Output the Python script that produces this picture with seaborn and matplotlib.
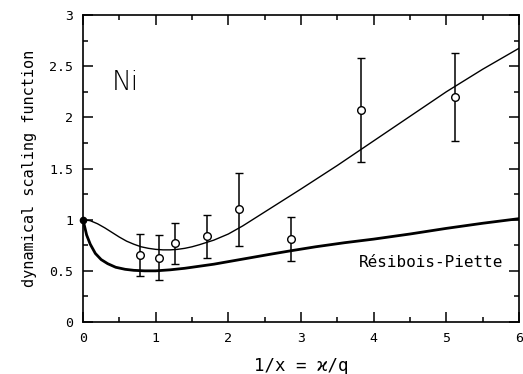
import numpy as np
import pandas as pd
import matplotlib
matplotlib.use("Agg")
import matplotlib.pyplot as plt
from matplotlib.ticker import MultipleLocator
import seaborn as sns

sns.set_style("ticks")
plt.rcParams['font.family'] = ['DejaVu Sans Mono', 'DejaVu Sans']
plt.rcParams['text.color'] = 'black'
plt.rcParams['axes.labelcolor'] = 'black'
plt.rcParams['xtick.color'] = 'black'
plt.rcParams['ytick.color'] = 'black'

# measured points (Ni)
x_pts = [0.78, 1.04, 1.27, 1.71, 2.14, 2.86, 3.82, 5.12]
y_pts = [0.655, 0.63, 0.77, 0.84, 1.10, 0.81, 2.07, 2.20]
y_err = [0.205, 0.22, 0.20, 0.21, 0.36, 0.215, 0.505, 0.43]

# theory curve through the data
x_fit = [0, 0.1, 0.2, 0.3, 0.4, 0.5, 0.6, 0.7, 0.8, 0.9, 1.0, 1.1, 1.2,
         1.3, 1.4, 1.5, 1.6, 1.8, 2.0, 2.2, 2.4, 2.6, 2.8, 3.0, 3.5, 4.0,
         4.5, 5.0, 5.5, 6.0]
y_fit = [1.0, 0.99, 0.96, 0.92, 0.875, 0.83, 0.79, 0.76, 0.735, 0.72, 0.71,
         0.705, 0.705, 0.71, 0.72, 0.735, 0.755, 0.80, 0.86, 0.94, 1.03,
         1.12, 1.21, 1.30, 1.53, 1.77, 2.01, 2.25, 2.47, 2.675]

# Resibois-Piette curve
x_rp = [0, 0.05, 0.1, 0.17, 0.25, 0.34, 0.45, 0.58, 0.7, 0.85, 1.0, 1.2,
        1.4, 1.6, 1.8, 2.0, 2.2, 2.4, 2.6, 2.85, 3.2, 3.6, 4.0, 4.5, 5.0,
        5.5, 6.0]
y_rp = [1.0, 0.85, 0.76, 0.67, 0.61, 0.57, 0.535, 0.515, 0.505, 0.50, 0.50,
        0.51, 0.525, 0.545, 0.565, 0.59, 0.615, 0.64, 0.665, 0.695, 0.735,
        0.775, 0.81, 0.86, 0.915, 0.965, 1.01]

fig = plt.figure(figsize=(5.23, 3.74), dpi=100)
ax = fig.add_axes([0.1587, 0.139, 0.8337, 0.8209])

fit = pd.DataFrame({'x': x_fit, 'y': y_fit})
rp = pd.DataFrame({'x': x_rp, 'y': y_rp})
sns.lineplot(data=fit, x='x', y='y', sort=False, estimator=None,
             color='black', lw=1.0, ax=ax)
sns.lineplot(data=rp, x='x', y='y', sort=False, estimator=None,
             color='black', lw=2.0, ax=ax)

ax.errorbar(x_pts, y_pts, yerr=y_err, fmt='o', mfc='white', mec='black',
            ms=5.5, mew=1.0, ecolor='black', elinewidth=1.1, capsize=2.6,
            capthick=1.1, zorder=3)
ax.plot([0], [1], 'o', color='black', ms=4.5, zorder=4, clip_on=False)

ax.set_xlim(0, 6)
ax.set_ylim(0, 3)
ax.xaxis.set_major_locator(MultipleLocator(1))
ax.xaxis.set_minor_locator(MultipleLocator(0.5))
ax.yaxis.set_minor_locator(MultipleLocator(0.25))
ax.set_yticks([0, 0.5, 1, 1.5, 2, 2.5, 3])
ax.set_yticklabels(['0', '0.5', '1', '1.5', '2', '2.5', '3'])

ax.tick_params(which='both', direction='in', top=True, right=True,
               width=1.1, labelsize=9.5)
ax.tick_params(which='major', length=7.2)
ax.tick_params(which='minor', length=3.6)
ax.tick_params(axis='x', pad=7)
ax.tick_params(axis='y', pad=7)
for s in ax.spines.values():
    s.set_linewidth(1.2)
    s.set_color('black')

ax.set_xlabel('1/x = ϰ/q', fontsize=12.5, labelpad=9)
ax.set_ylabel('dynamical scaling function', fontsize=11, labelpad=9)

ax.text(0.58, 2.34, 'Ni', fontsize=19, ha='center', va='center',
        family='DejaVu Sans', fontweight='light')
ax.text(5.78, 0.585, 'Résibois-Piette', fontsize=11.5, ha='right',
        va='center')

fig.savefig('out.png', dpi=100)
